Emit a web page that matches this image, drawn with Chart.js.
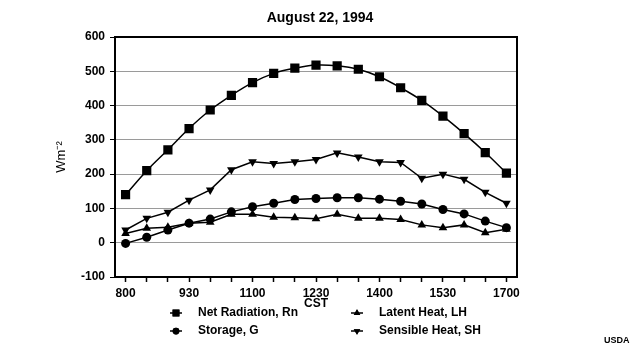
<!DOCTYPE html>
<html>
<head>
<meta charset="utf-8">
<script src="https://cdn.jsdelivr.net/npm/chart.js@4.4.0/dist/chart.umd.min.js"></script>
<style>
  body { margin: 0; background: #fff; }
  #wrap { width: 640px; height: 350px; position: relative; }
</style>
</head>
<body>
<div id="wrap"><canvas id="myChart" width="640" height="350"></canvas></div>
<script>
// half-hourly times (CST)
const times = ['800', '830', '900', '930', '1000', '1030', '1100', '1130', '1200', '1230',
  '1300', '1330', '1400', '1430', '1500', '1530', '1600', '1630', '1700'];

// W m-2
const netRadiation = [140, 210, 271, 333, 387, 430, 467, 494, 509, 518, 516, 506, 484, 452, 415, 369, 318, 263, 203];
const storage = [-2, 16, 37, 57, 69, 90, 105, 115, 126, 129, 131, 131, 127, 121, 113, 97, 84, 63, 44];
const latentHeat = [27, 42, 45, 57, 60, 83, 83, 74, 73, 70, 83, 71, 71, 68, 52, 44, 52, 29, 39];
const sensibleHeat = [37, 71, 89, 124, 154, 213, 236, 231, 236, 243, 262, 250, 236, 234, 188, 200, 185, 147, 115];

const seriesNames = ['Net Radiation, Rn', 'Storage, G', 'Latent Heat, LH', 'Sensible Heat, SH'];
const chartTitle = 'August 22, 1994';

const FONT = "'Liberation Sans', Arial, sans-serif";

const mkSet = (label, data, style, radius, rotation, tension) => ({
  label: label,
  data: data,
  borderColor: '#000',
  backgroundColor: '#000',
  borderWidth: 1.5,
  pointStyle: style,
  pointRadius: radius,
  pointHoverRadius: radius,
  pointRotation: rotation,
  pointBackgroundColor: '#000',
  pointBorderColor: '#000',
  pointBorderWidth: 0,
  tension: tension
});

// title over whole canvas, box border, two-column legend, source note
const extras = {
  id: 'extras',
  afterDraw(chart) {
    const ctx = chart.ctx;
    const a = chart.chartArea;
    ctx.save();
    ctx.fillStyle = '#000';
    ctx.font = 'bold 14px ' + FONT;
    ctx.textAlign = 'center';
    ctx.textBaseline = 'middle';
    ctx.fillText(chartTitle, 320, 18);

    ctx.strokeStyle = '#000';
    ctx.lineWidth = 2;
    ctx.beginPath();
    ctx.moveTo(a.left, a.top);
    ctx.lineTo(a.right, a.top);
    ctx.lineTo(a.right, a.bottom);
    ctx.stroke();

    // legend
    const slots = [[176, 313], [176, 331], [357, 313], [357, 331]];
    ctx.font = 'bold 12px ' + FONT;
    ctx.textAlign = 'left';
    chart.data.datasets.forEach((ds, i) => {
      const [x, y] = slots[i];
      ctx.strokeStyle = '#000';
      ctx.lineWidth = 1.5;
      ctx.beginPath();
      ctx.moveTo(x - 6, y);
      ctx.lineTo(x + 6, y);
      ctx.stroke();
      Chart.helpers.drawPoint(ctx, {
        pointStyle: ds.pointStyle,
        radius: ds.pointRadius * 0.75,
        rotation: ds.pointRotation,
        borderWidth: 0
      }, x, y);
      ctx.fill();
      ctx.fillText(ds.label, x + 22, y);
    });

    ctx.font = 'bold 9px ' + FONT;
    ctx.fillText('USDA', 604, 341);
    ctx.restore();
  }
};

const ctx = document.getElementById('myChart').getContext('2d');
new Chart(ctx, {
  type: 'line',
  data: {
    labels: times,
    datasets: [
      mkSet(seriesNames[0], netRadiation, 'rect', 6.5, 0, 0.35),
      mkSet(seriesNames[1], storage, 'circle', 4.5, 0, 0),
      mkSet(seriesNames[2], latentHeat, 'triangle', 5, 0, 0),
      mkSet(seriesNames[3], sensibleHeat, 'triangle', 5, 180, 0)
    ]
  },
  options: {
    responsive: false,
    animation: false,
    layout: { padding: { left: 0, right: 123, top: 37, bottom: 0 } },
    plugins: {
      legend: { display: false },
      tooltip: { enabled: false },
      title: { display: false }
    },
    scales: {
      x: {
        offset: true,
        grid: {
          drawOnChartArea: false,
          tickColor: '#000',
          tickLength: 5,
          tickWidth: 1.5
        },
        border: { color: '#000', width: 2 },
        ticks: {
          autoSkip: false,
          maxRotation: 0,
          color: '#000',
          padding: 4,
          font: { family: FONT, size: 12, weight: 'bold' },
          callback: function (value, index) {
            return index % 3 === 0 ? this.getLabelForValue(value) : '';
          }
        },
        title: {
          display: true,
          text: 'CST',
          color: '#000',
          font: { family: FONT, size: 12, weight: 'bold' },
          padding: { top: 0, bottom: 39 }
        },
        afterFit: (scale) => { scale.height = 73; }
      },
      y: {
        min: -100,
        max: 600,
        grid: {
          color: '#9a9a9a',
          lineWidth: 1,
          tickColor: '#000',
          tickLength: 5
        },
        border: { color: '#000', width: 2 },
        ticks: {
          stepSize: 100,
          color: '#000',
          padding: 5,
          font: { family: FONT, size: 12, weight: 'bold' }
        },
        title: {
          display: true,
          text: 'Wm⁻²',
          color: '#000',
          font: { family: FONT, size: 13 },
          padding: { top: 54, bottom: 0 }
        },
        afterFit: (scale) => { scale.width = 115; }
      }
    }
  },
  plugins: [extras]
});
</script>
</body>
</html>
